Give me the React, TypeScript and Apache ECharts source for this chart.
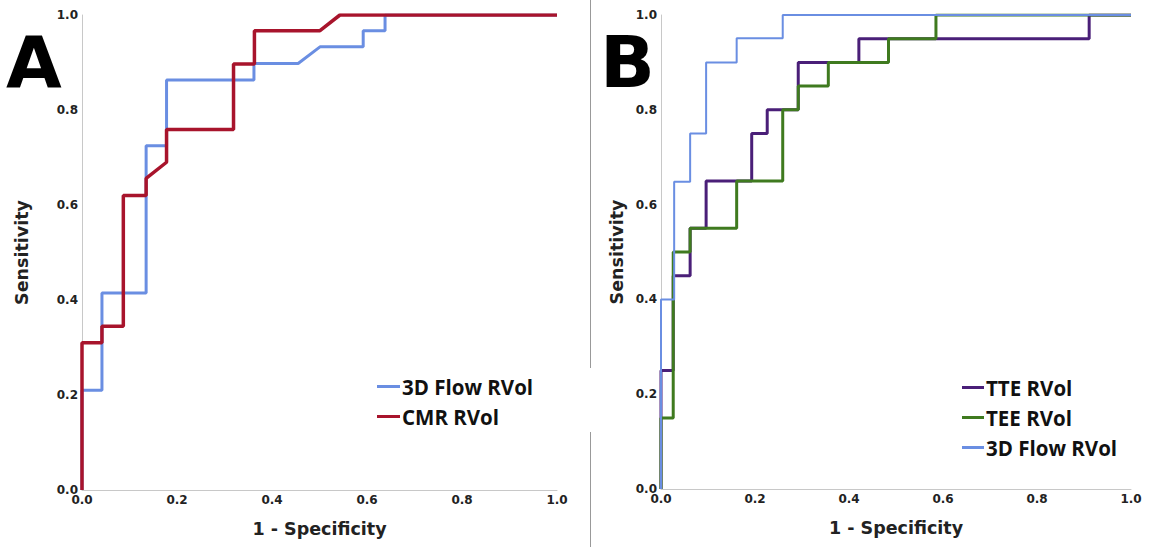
import React, { useEffect, useRef } from "react";
import * as echarts from "echarts";

// Panel A: [1 - Specificity, Sensitivity]
const flowA: number[][] = [
  [0, 0], [0, 0.21], [0.042, 0.21], [0.042, 0.415], [0.135, 0.415], [0.135, 0.725],
  [0.178, 0.725], [0.178, 0.863], [0.362, 0.863], [0.362, 0.898], [0.455, 0.898],
  [0.501, 0.933], [0.592, 0.933], [0.592, 0.967], [0.638, 0.967], [0.638, 1], [1, 1],
];
const cmrA: number[][] = [
  [0, 0], [0, 0.31], [0.042, 0.31], [0.042, 0.345], [0.087, 0.345], [0.087, 0.62],
  [0.135, 0.62], [0.135, 0.656], [0.178, 0.69], [0.178, 0.759], [0.319, 0.759],
  [0.319, 0.897], [0.363, 0.897], [0.363, 0.967], [0.501, 0.967], [0.543, 1], [1, 1],
];
// Panel B
const tteB: number[][] = [
  [0, 0], [0, 0.25], [0.026, 0.25], [0.026, 0.45], [0.062, 0.45], [0.062, 0.55],
  [0.096, 0.55], [0.096, 0.65], [0.193, 0.65], [0.193, 0.75], [0.226, 0.75],
  [0.226, 0.8], [0.292, 0.8], [0.292, 0.9], [0.421, 0.9], [0.421, 0.95],
  [0.911, 0.95], [0.911, 1], [1, 1],
];
const teeB: number[][] = [
  [0, 0], [0, 0.15], [0.026, 0.15], [0.026, 0.5], [0.062, 0.5], [0.062, 0.55],
  [0.161, 0.55], [0.161, 0.65], [0.259, 0.65], [0.259, 0.8], [0.292, 0.8],
  [0.292, 0.85], [0.356, 0.85], [0.356, 0.9], [0.484, 0.9], [0.484, 0.95],
  [0.585, 0.95], [0.585, 1], [1, 1],
];
const flowB: number[][] = [
  [0, 0], [0, 0.4], [0.028, 0.4], [0.028, 0.648], [0.062, 0.648], [0.062, 0.75],
  [0.096, 0.75], [0.096, 0.9], [0.161, 0.9], [0.161, 0.951], [0.259, 0.951],
  [0.259, 1], [1, 1],
];

const seriesNamesA = ["3D Flow RVol", "CMR RVol"];
const seriesNamesB = ["TTE RVol", "TEE RVol", "3D Flow RVol"];
const panelLetters = ["A", "B"];
const xName = "1 - Specificity";
const yName = "Sensitivity";

const BLUE = "#6a8ee2";
const RED = "#a8142c";
const PURPLE = "#4a1f78";
const GREEN = "#3f7a1f";
const FONT = "'DejaVu Sans', sans-serif";

const labelStyle = {
  fontFamily: FONT,
  fontWeight: "bold" as const,
  fontSize: 12,
  color: "#222",
  formatter: (v: number) => v.toFixed(1),
};
const nameStyle = { fontFamily: FONT, fontWeight: "bold" as const, fontSize: 17.5, color: "#222" };

function axisX(gridIndex: number) {
  return {
    type: "value" as const,
    gridIndex,
    min: 0,
    max: 1,
    interval: 0.2,
    name: xName,
    nameLocation: "middle" as const,
    nameGap: 30,
    nameTextStyle: nameStyle,
    axisLine: { show: true, lineStyle: { color: "#c8c8c8", width: 1 } },
    axisTick: { show: false },
    splitLine: { show: false },
    axisLabel: { margin: 4, ...labelStyle },
  };
}
function axisY(gridIndex: number, gap: number) {
  return {
    type: "value" as const,
    gridIndex,
    min: 0,
    max: 1,
    interval: 0.2,
    name: yName,
    nameLocation: "middle" as const,
    nameGap: gap,
    nameTextStyle: nameStyle,
    axisLine: { show: true, lineStyle: { color: "#c8c8c8", width: 1 } },
    axisTick: { show: false },
    splitLine: { show: false },
    axisLabel: { margin: 4, ...labelStyle },
  };
}

function lineSeries(name: string, data: number[][], color: string, width: number, idx: number) {
  return {
    type: "line" as const,
    name,
    data,
    xAxisIndex: idx,
    yAxisIndex: idx,
    showSymbol: false,
    symbol: "none",
    lineStyle: { color, width },
    itemStyle: { color },
  };
}

export default function App() {
  const ref = useRef<HTMLDivElement>(null);
  useEffect(() => {
    document.body.style.margin = "0";
    const chart = echarts.init(ref.current!, null, { renderer: "svg" });
    const legendText = {
      fontFamily: "'Open Sans', sans-serif",
      fontWeight: "bold" as const,
      fontSize: 20.5,
      lineHeight: 23,
      color: "#111",
      padding: [0, 0, 0, -3],
    };
    const letterStyle = { fontFamily: FONT, fontWeight: "bold", fontSize: 72, lineHeight: 82, fill: "#000" };
    chart.setOption({
      animation: false,
      backgroundColor: "#fff",
      grid: [
        { left: 82, right: 605, top: 15, bottom: 57 },
        { left: 661, right: 31, top: 15, bottom: 58 },
      ],
      xAxis: [axisX(0), axisX(1)],
      yAxis: [axisY(0, 51), axisY(1, 35)],
      legend: [
        {
          data: seriesNamesA,
          orient: "vertical",
          left: 372,
          top: 370,
          icon: "rect",
          itemWidth: 23,
          itemHeight: 3,
          itemGap: 7,
          textStyle: legendText,
        },
        {
          data: seriesNamesB,
          orient: "vertical",
          left: 957,
          top: 371,
          icon: "rect",
          itemWidth: 22,
          itemHeight: 3,
          itemGap: 7,
          textStyle: legendText,
        },
      ],
      series: [
        lineSeries(seriesNamesA[0], flowA, BLUE, 3, 0),
        lineSeries(seriesNamesA[1], cmrA, RED, 3.5, 0),
        lineSeries(seriesNamesB[0], tteB, PURPLE, 3, 1),
        lineSeries(seriesNamesB[1], teeB, GREEN, 3, 1),
        lineSeries(seriesNamesB[2], flowB, BLUE, 2, 1),
      ],
      graphic: [
        { type: "line", shape: { x1: 590.5, y1: 0, x2: 590.5, y2: 368 }, style: { stroke: "#999", lineWidth: 1 } },
        { type: "line", shape: { x1: 590.5, y1: 432, x2: 590.5, y2: 547 }, style: { stroke: "#999", lineWidth: 1 } },
        { type: "text", left: 6, top: 21, style: { ...letterStyle, text: panelLetters[0] } },
        { type: "text", left: 600, top: 21, style: { ...letterStyle, text: panelLetters[1] } },
      ],
    });
    return () => chart.dispose();
  }, []);
  return <div ref={ref} style={{ width: 1162, height: 547 }} />;
}
